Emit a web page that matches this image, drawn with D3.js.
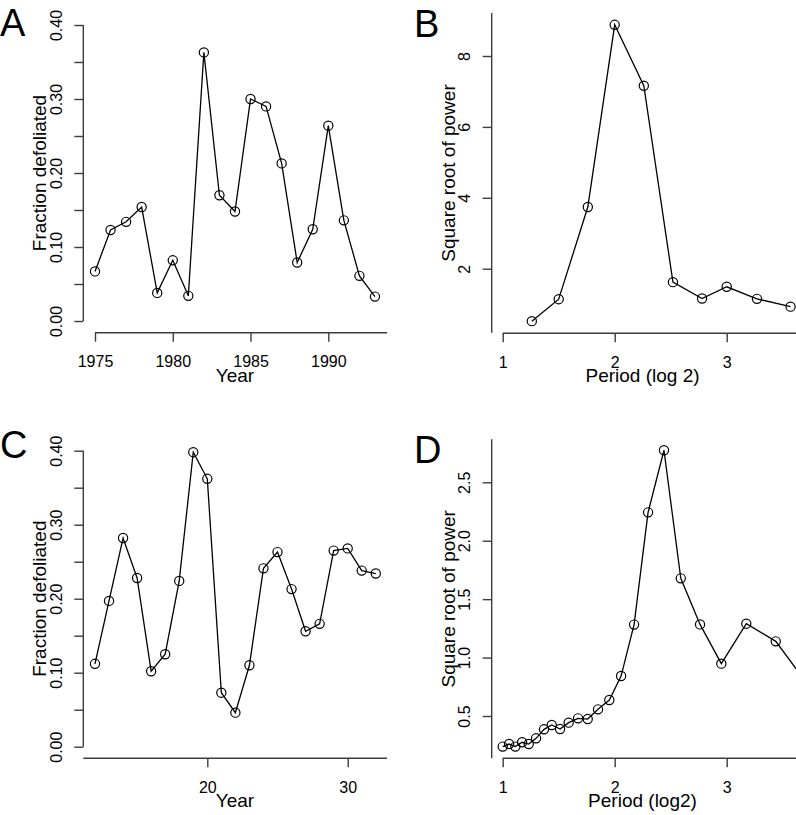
<!DOCTYPE html>
<html>
<head>
<meta charset="utf-8">
<script src="https://cdn.jsdelivr.net/npm/d3@7"></script>
<style>
  body { margin: 0; background: #fff; }
  svg { display: block; font-family: "Liberation Sans", Arial, Helvetica, sans-serif; }
</style>
</head>
<body>
<div id="chart"></div>
<script>
// panel A: observed defoliation
const yearsA = [1975, 1976, 1977, 1978, 1979, 1980, 1981, 1982, 1983, 1984,
                1985, 1986, 1987, 1988, 1989, 1990, 1991, 1992, 1993];
const defolA = [0.067, 0.123, 0.134, 0.154, 0.038, 0.082, 0.034, 0.363, 0.170, 0.148,
                0.300, 0.290, 0.213, 0.079, 0.124, 0.264, 0.136, 0.061, 0.033];

// panel B: spectrum of A
const periodB = [1.26, 1.50, 1.76, 2.00, 2.26, 2.52, 2.78, 3.00, 3.27, 3.57];
const powerB  = [0.52, 1.14, 3.74, 8.88, 7.16, 1.62, 1.16, 1.49, 1.15, 0.93];

// panel C: simulated defoliation
const yearsC = [12, 13, 14, 15, 16, 17, 18, 19, 20, 21, 22, 23, 24, 25, 26, 27, 28, 29, 30, 31, 32];
const defolC = [0.112, 0.197, 0.282, 0.228, 0.102, 0.125, 0.224, 0.398, 0.362, 0.073, 0.046,
                0.110, 0.241, 0.263, 0.213, 0.156, 0.166, 0.265, 0.268, 0.238, 0.234];

// panel D: spectrum of C
const periodD = [1.00, 1.057, 1.113, 1.173, 1.232, 1.298, 1.369, 1.438, 1.512, 1.589, 1.673, 1.759,
                 1.851, 1.952, 2.057, 2.173, 2.298, 2.44, 2.59, 2.762, 2.952, 3.175, 3.438, 3.70];
const powerD  = [0.238, 0.26, 0.238, 0.275, 0.26, 0.309, 0.386, 0.423, 0.389, 0.443, 0.48, 0.474,
                 0.557, 0.637, 0.842, 1.282, 2.243, 2.774, 1.678, 1.284, 0.948, 1.29, 1.139, 0.80];

// tick labels
const ticksYearA = [1975, 1980, 1985, 1990];
const ticksFrac  = [0, 0.05, 0.10, 0.15, 0.20, 0.25, 0.30, 0.35, 0.40];
const ticksPowB  = [2, 4, 6, 8];
const ticksPer   = [1, 2, 3];
const ticksYearC = [20, 30];
const ticksPowD  = [0.5, 1.0, 1.5, 2.0, 2.5];

const W = 796, H = 815;
const FONT = '"Liberation Sans", Arial, Helvetica, sans-serif';
const svg = d3.select("#chart").append("svg")
    .attr("width", W)
    .attr("height", H)
    .attr("viewBox", `0 0 ${W} ${H}`);

const AXIS_COL = "#3c3c3c";

function drawPanel(p) {
    const g = svg.append("g");
    const x = d3.scaleLinear().domain(p.xDom).range(p.xRange);
    const y = d3.scaleLinear().domain(p.yDom).range(p.yRange);

    // y axis
    const ya = g.append("g")
        .attr("transform", `translate(${p.yAxisX},0)`)
        .call(d3.axisLeft(y).tickValues(p.yTicks).tickSize(9).tickSizeOuter(0).tickFormat(p.yFmt))
        .attr("font-family", FONT)
        .attr("font-size", 16);
    ya.select(".domain").remove();
    ya.selectAll(".tick line").attr("stroke", AXIS_COL).attr("stroke-width", 1.4);
    ya.selectAll(".tick text")
        .attr("x", 0).attr("y", 0).attr("dy", 0)
        .attr("text-anchor", "middle")
        .attr("transform", "translate(-21.5,0) rotate(-90)")
        .attr("fill", "#000");
    g.append("line")
        .attr("x1", p.yAxisX).attr("x2", p.yAxisX)
        .attr("y1", p.yLine[0]).attr("y2", p.yLine[1])
        .attr("stroke", AXIS_COL).attr("stroke-width", 1.4);

    // x axis
    const xa = g.append("g")
        .attr("transform", `translate(0,${p.xAxisY})`)
        .call(d3.axisBottom(x).tickValues(p.xTicks).tickSize(9).tickSizeOuter(0).tickFormat(d3.format("d")))
        .attr("font-family", FONT)
        .attr("font-size", 16);
    xa.select(".domain").remove();
    xa.selectAll(".tick line").attr("stroke", AXIS_COL).attr("stroke-width", 1.4);
    xa.selectAll(".tick text")
        .attr("y", 34.5).attr("dy", 0)
        .attr("fill", "#000");
    g.append("line")
        .attr("x1", p.xLine[0]).attr("x2", p.xLine[1])
        .attr("y1", p.xAxisY).attr("y2", p.xAxisY)
        .attr("stroke", AXIS_COL).attr("stroke-width", 1.4);

    // titles
    g.append("text")
        .attr("x", p.xTitleX).attr("y", p.xAxisY + 49)
        .attr("text-anchor", "middle")
        .style("font-size", "19px")
        .text(p.xTitle);
    g.append("text")
        .attr("transform", `translate(${p.yAxisX - 37},${p.yTitleY}) rotate(-90)`)
        .attr("text-anchor", "middle")
        .style("font-size", "19px")
        .text(p.yTitle);

    // panel letter
    g.append("text")
        .attr("x", p.letterX).attr("y", p.letterY)
        .style("font-size", "38px")
        .text(p.letter);

    // series
    const pts = p.xs.map((d, i) => [d, p.ys[i]]);
    g.append("path")
        .datum(pts)
        .attr("fill", "none")
        .attr("stroke", "#000")
        .attr("stroke-width", 1.3)
        .attr("d", d3.line().x(d => x(d[0])).y(d => y(d[1])));
    g.selectAll("circle")
        .data(pts)
        .enter().append("circle")
        .attr("cx", d => x(d[0]))
        .attr("cy", d => y(d[1]))
        .attr("r", 4.6)
        .attr("fill", "none")
        .attr("stroke", "#000")
        .attr("stroke-width", 1.2);
}

const fmt2 = d => (Math.round(d * 100) % 10 === 0) ? d3.format(".2f")(d) : "";

drawPanel({
    letter: "A", letterX: 0, letterY: 36,
    xs: yearsA, ys: defolA,
    xDom: [1975, 1990], xRange: [95, 328.3],
    yDom: [0, 0.4], yRange: [321, 25],
    yAxisX: 83.3, yLine: [321, 25], yTicks: ticksFrac, yFmt: fmt2,
    xAxisY: 332.7, xLine: [95, 387], xTicks: ticksYearA,
    xTitle: "Year", xTitleX: 235,
    yTitle: "Fraction defoliated", yTitleY: 173
});

drawPanel({
    letter: "B", letterX: 414, letterY: 37,
    xs: periodB, ys: powerB,
    xDom: [1, 3], xRange: [502.7, 726.7],
    yDom: [2, 8], yRange: [268.7, 56],
    yAxisX: 491.7, yLine: [332.7, 13], yTicks: ticksPowB, yFmt: d3.format("d"),
    xAxisY: 333.3, xLine: [502.7, 800], xTicks: ticksPer,
    xTitle: "Period (log 2)", xTitleX: 642.5,
    yTitle: "Square root of power", yTitleY: 173
});

drawPanel({
    letter: "C", letterX: 0, letterY: 458,
    xs: yearsC, ys: defolC,
    xDom: [20, 30], xRange: [207.3, 347.7],
    yDom: [0, 0.4], yRange: [746.7, 450.7],
    yAxisX: 83.3, yLine: [746.7, 450.7], yTicks: ticksFrac, yFmt: fmt2,
    xAxisY: 758.3, xLine: [83.3, 387], xTicks: ticksYearC,
    xTitle: "Year", xTitleX: 235,
    yTitle: "Fraction defoliated", yTitleY: 598.7
});

drawPanel({
    letter: "D", letterX: 414, letterY: 463,
    xs: periodD, ys: powerD,
    xDom: [1, 3], xRange: [502.7, 726.7],
    yDom: [0.5, 2.5], yRange: [716, 482.3],
    yAxisX: 491.7, yLine: [758.3, 439.3], yTicks: ticksPowD, yFmt: d3.format(".1f"),
    xAxisY: 758.3, xLine: [502.7, 800], xTicks: ticksPer,
    xTitle: "Period (log2)", xTitleX: 642.5,
    yTitle: "Square root of power", yTitleY: 598.8
});
</script>
</body>
</html>
